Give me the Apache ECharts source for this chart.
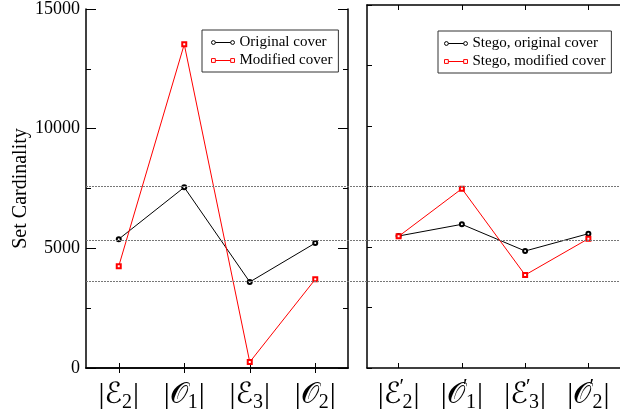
<!DOCTYPE html>
<html>
<head>
<meta charset="utf-8">
<script src="https://cdn.jsdelivr.net/npm/echarts@6/dist/echarts.min.js"></script>
<style>html,body{margin:0;padding:0;background:#fff}#c{width:620px;height:419px}</style>
</head>
<body>
<div id="c"></div>
<script>
// ---- data ----
var categoriesLeft = ['E2', 'O1', 'E3', 'O2'];
var categoriesRight = ["E2'", "O1'", "E3'", "O2'"];
var tickLabelsLeft = ['{b|\u007c}{m|\u2130}{s|2}{b|\u007c}', '{b|\u007c}{m|\ud835\udcaa}{s|1}{b|\u007c}', '{b|\u007c}{m|\u2130}{s|3}{b|\u007c}', '{b|\u007c}{m|\ud835\udcaa}{s|2}{b|\u007c}'];
var tickLabelsRight = ['{b|\u007c}{m|\u2130}{p|\u2032}{s|2}{b|\u007c}', '{b|\u007c}{m|\ud835\udcaa}{p|\u2032}{s|1}{b|\u007c}', '{b|\u007c}{m|\u2130}{p|\u2032}{s|3}{b|\u007c}', '{b|\u007c}{m|\ud835\udcaa}{p|\u2032}{s|2}{b|\u007c}'];
var originalCover = [5384, 7549, 3595, 5220];
var modifiedCover = [4256, 13525, 248, 3706];
var stegoOriginal = [5454, 5937, 4835, 5550];
var stegoModified = [5440, 7409, 3843, 5343];
var refLines = [7530, 5276, 3567];
var yTicks = { min: 0, max: 15000, major: 5000, minor: 2500 };

var serif = "'Liberation Serif','DejaVu Serif',serif";
var richLabel = {
  b: { fontSize: 30, fontFamily: serif, color: '#000', lineHeight: 36 },
  m: { fontSize: 29, fontFamily: "'DejaVu Serif','DejaVu Sans',serif", color: '#000', lineHeight: 36 },
  s: { fontSize: 20, fontFamily: serif, color: '#000', lineHeight: 21, verticalAlign: 'bottom', padding: [0, 1, 0, 0] },
  p: { fontSize: 21, fontFamily: serif, color: '#000', lineHeight: 21, verticalAlign: 'top', width: 1 }
};

var circleIcon = 'path://M0,4 a2,2 0 1,0 4,0 a2,2 0 1,0 -4,0 Z M4,4 L20,4 M20,4 a2,2 0 1,0 4,0 a2,2 0 1,0 -4,0 Z';
var squareIcon = 'path://M0,2 h4 v4 h-4 Z M4,4 L20,4 M20,2 h4 v4 h-4 Z';

function catAxis(gridIndex, cats, labels, pos, showLabel) {
  return {
    type: 'category', gridIndex: gridIndex, position: pos, data: cats, boundaryGap: true,
    axisLine: { show: true, lineStyle: { color: '#000', width: 1.5 } },
    axisTick: { show: true, inside: true, length: 5, alignWithLabel: true, lineStyle: { color: '#000', width: 1 } },
    axisLabel: {
      show: showLabel, margin: 9, interval: 0, hideOverlap: false,
      formatter: function (v, i) { return labels[i]; },
      rich: richLabel
    },
    splitLine: { show: false }
  };
}
function valAxis(gridIndex, pos, showLabel, interval, majorLen, minor) {
  return {
    type: 'value', gridIndex: gridIndex, position: pos, min: yTicks.min, max: yTicks.max, interval: interval,
    axisLine: { show: true, lineStyle: { color: '#000', width: 1.5 } },
    axisTick: { show: true, inside: true, length: majorLen, lineStyle: { color: '#000', width: 1 } },
    minorTick: { show: minor, splitNumber: 2, length: 5, lineStyle: { color: '#000', width: 1 } },
    axisLabel: { show: showLabel, fontSize: 18, fontFamily: serif, color: '#000', margin: 6,
      formatter: function (v) { return String(v); } },
    splitLine: { show: false },
    minorSplitLine: { show: false }
  };
}

var yLeft = valAxis(0, 'left', true, yTicks.major, 10, true);
yLeft.name = 'Set Cardinality';
yLeft.nameLocation = 'middle';
yLeft.nameGap = 50;
yLeft.nameTextStyle = { fontSize: 20, fontFamily: serif, color: '#000' };

var legendText = { fontSize: 15, fontFamily: serif, color: '#000', lineHeight: 17 };
function legendItem(name, icon, color) {
  return { name: name, icon: icon, itemStyle: { color: '#fff', borderColor: color, borderWidth: 1 } };
}

var option = {
  animation: false,
  backgroundColor: '#fff',
  grid: [
    { left: 86, top: 5, width: 262, height: 363 },
    { left: 367, top: 5, width: 262, height: 363 },
    { left: 86, top: 5, width: 534, height: 363 }
  ],
  xAxis: [
    catAxis(0, categoriesLeft, tickLabelsLeft, 'bottom', true),
    catAxis(0, categoriesLeft, tickLabelsLeft, 'top', false),
    catAxis(1, categoriesRight, tickLabelsRight, 'bottom', true),
    catAxis(1, categoriesRight, tickLabelsRight, 'top', false),
    { type: 'value', gridIndex: 2, min: 0, max: 1, show: false }
  ],
  yAxis: [
    yLeft,
    valAxis(0, 'right', false, yTicks.major, 10, true),
    valAxis(1, 'left', false, yTicks.minor, 5, false),
    { type: 'value', gridIndex: 2, min: yTicks.min, max: yTicks.max, show: false }
  ],
  legend: [
    {
      data: [legendItem('Original cover', circleIcon, '#000'), legendItem('Modified cover', squareIcon, '#ff0000')],
      left: 202, top: 30, orient: 'vertical',
      borderColor: '#333', borderWidth: 1, padding: [4, 6, 3, 9], itemGap: 1, itemWidth: 23, itemHeight: 4,
      textStyle: legendText
    },
    {
      data: [legendItem('Stego, original cover', circleIcon, '#000'), legendItem('Stego, modified cover', squareIcon, '#ff0000')],
      left: 438, top: 31, orient: 'vertical',
      borderColor: '#333', borderWidth: 1, padding: [4, 6, 3, 6], itemGap: 1, itemWidth: 23, itemHeight: 4,
      textStyle: legendText
    }
  ],
  series: [
    {
      type: 'line', xAxisIndex: 4, yAxisIndex: 3, data: [], silent: true, z: 1,
      markLine: {
        silent: true, symbol: 'none', label: { show: false },
        lineStyle: { type: [2, 1], color: '#777', width: 1 },
        data: refLines.map(function (v) { return { yAxis: v }; })
      }
    },
    {
      name: 'Original cover', type: 'line', xAxisIndex: 0, yAxisIndex: 0, data: originalCover,
      symbol: 'emptyCircle', symbolSize: 4, color: '#000', lineStyle: { width: 1, color: '#000' }, z: 3
    },
    {
      name: 'Modified cover', type: 'line', xAxisIndex: 0, yAxisIndex: 0, data: modifiedCover,
      symbol: 'emptyRect', symbolSize: 4, color: '#ff0000', lineStyle: { width: 1, color: '#ff0000' }, z: 3
    },
    {
      name: 'Stego, original cover', type: 'line', xAxisIndex: 2, yAxisIndex: 2, data: stegoOriginal,
      symbol: 'emptyCircle', symbolSize: 4, color: '#000', lineStyle: { width: 1, color: '#000' }, z: 3
    },
    {
      name: 'Stego, modified cover', type: 'line', xAxisIndex: 2, yAxisIndex: 2, data: stegoModified,
      symbol: 'emptyRect', symbolSize: 4, color: '#ff0000', lineStyle: { width: 1, color: '#ff0000' }, z: 3
    }
  ]
};
var chart = echarts.init(document.getElementById('c'), null, { renderer: 'canvas' });
chart.setOption(option);
</script>
</body>
</html>
